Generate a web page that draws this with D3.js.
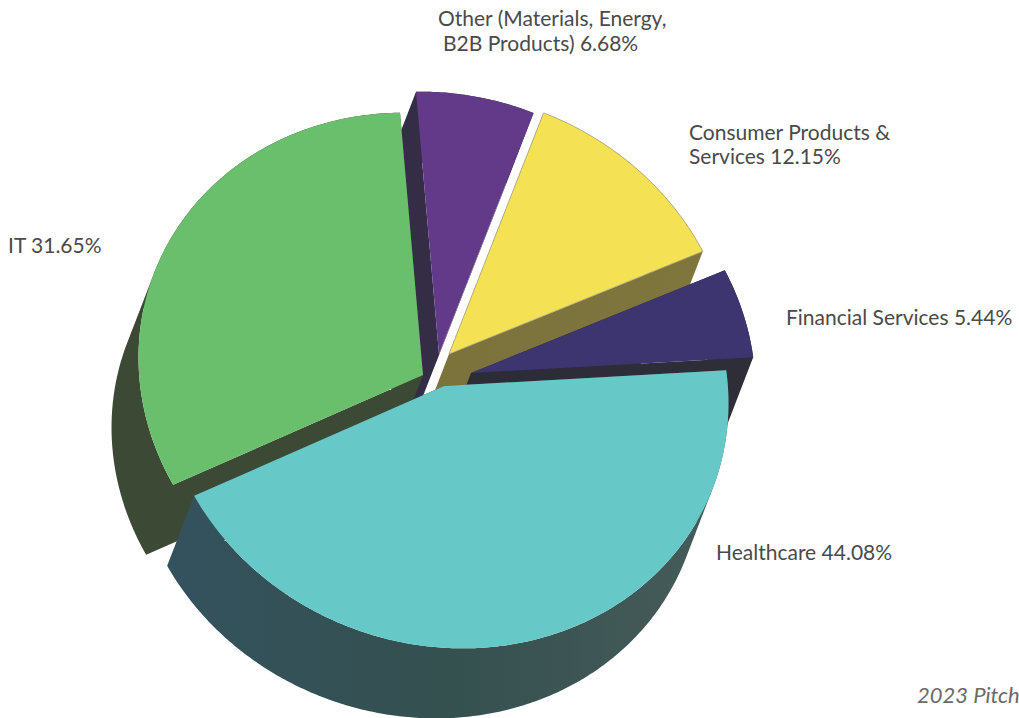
<!DOCTYPE html>
<html>
<head>
<meta charset="utf-8">
<script src="https://cdnjs.cloudflare.com/ajax/libs/d3/7.8.5/d3.min.js"></script>
<style>
  html, body { margin: 0; padding: 0; background: #fff; overflow: hidden; }
  svg { display: block; }
  text { font-family: "Lato", "Open Sans", sans-serif; fill: #4a4a4a; font-size: 21px; }
</style>
</head>
<body>
<svg id="chart" width="1019" height="718"></svg>
<script>
// Share of deal value by sector, clockwise from the top of the pie
const sectors = ["Other (Materials, Energy, B2B Products)", "Consumer Products & Services", "Financial Services", "Healthcare", "IT"];
const shares = [6.68, 12.15, 5.44, 44.08, 31.65];

// Label wrapping, one list of lines per sector
const labelLines = [
  ["Other (Materials, Energy,", "B2B Products) 6.68%"],
  ["Consumer Products &", "Services 12.15%"],
  ["Financial Services 5.44%"],
  ["Healthcare 44.08%"],
  ["IT 31.65%"]
];
const sourceNote = "2023 Pitch";

// Styling per sector
const faceColors = ["#633a8a", "#f4e254", "#3c3570", "#67c8c8", "#69bf6c"];
const edgeColors = ["none", "#a8a484", "none", "none", "none"];
const wallColors = [
  ["#352c45", "#352c45", "#352c45"],
  ["#7a713a", "#7c733c", "#7f763e"],
  ["#2b2a36", "#2c2b37", "#2e2d38"],
  ["#34525e", "#34504f", "#475c5a"],
  ["#3c4a35", "#3c4a35", "#3c4a35"]
];

// Layout: hub of the pie, slice pull-out from the hub, tilt of the disc, extrusion
const hub = { x: 438, y: 372 };
const pullOut = [[1, -18], [11, -18], [33, 1], [6, 14], [-15, 3]];
const paintOrder = [0, 1, 2, 4, 3];
const axisA = { x: 252, y: -106 };
const axisB = { x: 132, y: 240 };
const axisAngle = (6.68 + 12.15) / 100 * 2 * Math.PI - 0.014;
const depth = { x: -27, y: 70 };
const labelAnchors = [[438, 26, 25], [689, 140, 24], [786, 325, 0], [716, 560, 0], [8, 253, 0]];

const svg = d3.select("#chart");
const pie = d3.pie().sort(null).value(d => d)(shares);

// Tilted-disc projection of a pie angle onto the page
const project = (angle) => {
  const t = angle - axisAngle;
  return [axisA.x * Math.cos(t) + axisB.x * Math.sin(t),
          axisA.y * Math.cos(t) + axisB.y * Math.sin(t)];
};
const closedLine = d3.line().curve(d3.curveLinearClosed);

const sliceOutline = (d, i) => {
  const ox = hub.x + pullOut[i][0], oy = hub.y + pullOut[i][1];
  const steps = Math.ceil((d.endAngle - d.startAngle) / 0.01);
  const rim = d3.range(steps + 1).map(k => {
    const p = project(d.startAngle + (d.endAngle - d.startAngle) * k / steps);
    return [ox + p[0], oy + p[1]];
  });
  return [[ox, oy], ...rim];
};

// Swept side of a slice: one compound path of same-winding quads, so no seams show
const wallPath = (ring) => ring.map((p, k) => {
  const q = ring[(k + 1) % ring.length];
  const quad = [p, q, [q[0] + depth.x, q[1] + depth.y], [p[0] + depth.x, p[1] + depth.y]];
  return closedLine(d3.polygonArea(quad) < 0 ? quad.reverse() : quad);
}).join("");

const defs = svg.append("defs");
wallColors.forEach((stops, i) => {
  const g = defs.append("linearGradient")
    .attr("id", "wall" + i)
    .attr("gradientUnits", "userSpaceOnUse")
    .attr("x1", 167).attr("y1", 0).attr("x2", 727).attr("y2", 0);
  stops.forEach((c, k) => g.append("stop").attr("offset", k / 2).attr("stop-color", c));
});

// Back-to-front painting: walls of a slice first, then its top face
paintOrder.forEach(i => {
  const ring = sliceOutline(pie[i], i);
  svg.append("path")
    .attr("class", "wall")
    .attr("d", wallPath(ring))
    .attr("fill", `url(#wall${i})`);
  svg.append("path")
    .attr("class", "face")
    .attr("d", closedLine(ring))
    .attr("fill", faceColors[i])
    .attr("stroke", edgeColors[i])
    .attr("stroke-width", 0.8);
});

// Sector labels
labelLines.forEach((lines, i) => {
  const [x, y, leading] = labelAnchors[i];
  lines.forEach((line, k) => {
    svg.append("text")
      .attr("x", x + (k && i === 0 ? 5 : 0))
      .attr("y", y + k * leading)
      .text(line);
  });
});

svg.append("text")
  .attr("x", 917).attr("y", 703)
  .style("font-style", "italic").style("font-size", "22px").style("fill", "#6a6a6a")
  .text(sourceNote);
</script>
</body>
</html>
